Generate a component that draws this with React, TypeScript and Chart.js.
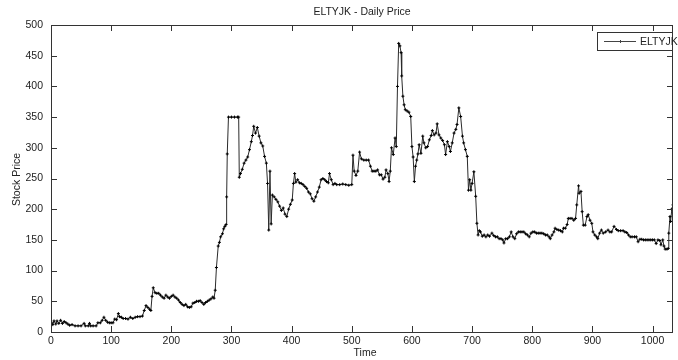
import React, { useEffect, useRef } from "react";
import { Chart, registerables } from "chart.js";

Chart.register(...registerables);

const seriesName = "ELTYJK";
const titleText = "ELTYJK - Daily Price";
const xTitle = "Time";
const yTitle = "Stock Price";
const xTicks = [0, 100, 200, 300, 400, 500, 600, 700, 800, 900, 1000];
const yTicks = [0, 50, 100, 150, 200, 250, 300, 350, 400, 450, 500];
const xMax = 1034;
const yMax = 500;

const days = [
  1, 3, 5, 8, 10, 13, 16, 19, 22, 25, 28, 31, 35, 40, 45, 50, 55, 57, 62, 64, 66, 70, 75, 78, 82, 85, 88, 91, 94, 97,
  100, 103, 106, 109, 112, 114, 117, 120, 124, 128, 132, 136, 140, 144, 148, 152, 155, 158, 161, 164, 166, 168, 170, 173, 176, 179,
  182, 185, 188, 191, 194, 197, 200, 203, 206, 209, 212, 215, 218, 221, 224, 227, 230, 233, 236, 239, 242, 245, 248, 251, 254, 257,
  260, 263, 266, 269, 271, 273, 275, 278, 280, 282, 285, 287, 289, 291, 292, 293, 295, 300, 305, 310, 312, 313, 315, 318, 321, 324,
  327, 330, 333, 335, 337, 340, 343, 346, 349, 352, 355, 358, 360, 362, 364, 366, 368, 371, 374, 377, 380, 383, 386, 389, 392, 395,
  398, 401, 403, 405, 407, 410, 413, 416, 419, 422, 425, 428, 431, 434, 437, 440, 443, 446, 449, 452, 455, 458, 461, 463, 466, 469,
  472, 475, 480, 485, 490, 495, 500, 502, 504, 507, 510, 513, 516, 520, 524, 528, 531, 534, 537, 540, 543, 546, 549, 552, 555, 557,
  560, 562, 564, 566, 569, 572, 574, 576, 578, 580, 582, 583, 585, 587, 589, 592, 595, 598, 600, 602, 604, 606, 608, 610, 612, 615,
  618, 620, 623, 626, 629, 632, 634, 637, 640, 642, 645, 648, 651, 654, 656, 659, 662, 664, 667, 670, 673, 675, 678, 681, 684, 686,
  689, 692, 694, 696, 698, 700, 703, 706, 708, 710, 712, 714, 717, 720, 723, 726, 729, 733, 736, 739, 742, 745, 748, 751, 753, 756,
  759, 762, 765, 768, 771, 774, 777, 780, 783, 786, 789, 792, 795, 798, 801, 804, 807, 810, 813, 816, 819, 822, 825, 828, 830, 833,
  836, 838, 841, 844, 847, 850, 852, 855, 858, 860, 863, 866, 869, 872, 874, 877, 878, 881, 883, 885, 888, 891, 893, 896, 899, 901,
  904, 907, 909, 912, 915, 918, 922, 926, 929, 932, 936, 940, 943, 947, 951, 954, 957, 960, 963, 966, 970, 973, 976, 979, 982, 985,
  988, 991, 994, 997, 1000, 1003, 1006, 1009, 1012, 1014, 1017, 1019, 1021, 1024, 1026, 1027, 1029, 1030, 1032, 1034,
];

const prices = [
  15, 12, 18, 13, 18, 14, 19, 14, 17, 15, 13, 11, 12, 10, 10, 10, 14, 10, 10, 14, 10, 10, 10, 15, 15, 19, 24, 19, 16, 15,
  15, 15, 21, 20, 30, 25, 24, 22, 22, 21, 24, 22, 24, 25, 25, 26, 35, 43, 40, 37, 35, 58, 72, 64, 63, 63,
  60, 57, 55, 60, 57, 55, 58, 60, 57, 55, 52, 48, 45, 43, 45, 41, 40, 41, 47, 48, 50, 50, 51, 48, 45, 48,
  50, 52, 54, 57, 55, 68, 105, 140, 146, 155, 160, 168, 172, 175, 220, 290, 350, 350, 350, 350, 350, 252, 258, 265, 275, 280,
  285, 297, 310, 320, 335, 324, 333, 319, 308, 303, 286, 275, 242, 166, 262, 176, 223, 220, 216, 212, 205, 198, 202, 192, 188, 200,
  208, 215, 242, 258, 244, 248, 243, 242, 240, 237, 234, 228, 225, 217, 213, 220, 228, 236, 248, 250, 248, 245, 243, 258, 248, 240,
  242, 240, 240, 241, 240, 239, 240, 288, 262, 255, 262, 293, 282, 280, 280, 280, 270, 262, 262, 262, 264, 256, 256, 249, 252, 264,
  258, 245, 262, 300, 289, 316, 302, 400, 470, 466, 455, 417, 384, 370, 362, 360, 358, 351, 302, 285, 245, 270, 280, 290, 305, 291,
  319, 308, 300, 302, 313, 320, 328, 321, 324, 339, 321, 316, 312, 305, 289, 310, 302, 294, 308, 324, 330, 338, 365, 351, 319, 308,
  297, 286, 231, 248, 231, 242, 261, 221, 177, 158, 165, 163, 156, 158, 155, 158, 156, 161, 157, 155, 155, 152, 152, 150, 145, 152,
  152, 155, 163, 155, 152, 160, 163, 163, 163, 163, 160, 158, 155, 161, 163, 163, 161, 161, 161, 161, 160, 158, 158, 155, 152, 158,
  163, 169, 167, 166, 165, 163, 169, 169, 175, 185, 185, 185, 182, 185, 207, 238, 226, 229, 196, 174, 174, 188, 191, 182, 177, 163,
  158, 155, 152, 161, 166, 161, 163, 166, 163, 163, 172, 167, 165, 165, 165, 163, 162, 158, 155, 155, 155, 155, 147, 151, 151, 150,
  150, 150, 150, 150, 150, 150, 144, 150, 149, 142, 150, 140, 135, 135, 136, 161, 188, 180, 200, 207,
];

const FONT = '"Liberation Sans Narrow", "Liberation Sans", Arial, sans-serif';
const AXIS_COLOR = "#333";
const TEXT_COLOR = "#222";
const TICK_LEN = 6;

const decorPlugin = {
  id: "decor",
  afterDraw(chart: any) {
    const { ctx, chartArea } = chart;
    const xs = chart.scales.x;
    const ys = chart.scales.y;
    const { left, right, top, bottom } = chartArea;
    ctx.save();
    ctx.strokeStyle = AXIS_COLOR;
    ctx.lineWidth = 1;
    ctx.beginPath();
    // box
    ctx.moveTo(left + 0.5, top + 0.5);
    ctx.lineTo(right - 0.5, top + 0.5);
    ctx.lineTo(right - 0.5, bottom + 0.5);
    ctx.moveTo(left + 0.5, top + 0.5);
    ctx.lineTo(left + 0.5, bottom + 0.5);
    ctx.lineTo(right - 0.5, bottom + 0.5);
    // inward ticks
    xTicks.forEach((v) => {
      const px = Math.round(xs.getPixelForValue(v)) + 0.5;
      ctx.moveTo(px, bottom);
      ctx.lineTo(px, bottom - TICK_LEN);
      ctx.moveTo(px, top);
      ctx.lineTo(px, top + TICK_LEN);
    });
    yTicks.forEach((v) => {
      const py = Math.round(ys.getPixelForValue(v)) + 0.5;
      ctx.moveTo(left, py);
      ctx.lineTo(left + TICK_LEN, py);
      ctx.moveTo(right, py);
      ctx.lineTo(right - TICK_LEN, py);
    });
    ctx.stroke();

    ctx.fillStyle = TEXT_COLOR;
    ctx.font = `10.5px ${FONT}`;
    ctx.textAlign = "center";
    ctx.textBaseline = "middle";
    const cx = (left + right) / 2;
    ctx.fillText(titleText, cx, 12);
    ctx.fillText(xTitle, cx + 3, 353);
    ctx.save();
    ctx.translate(17, (top + bottom) / 2 + 1);
    ctx.rotate(-Math.PI / 2);
    ctx.fillText(yTitle, 0, 0);
    ctx.restore();

    // legend
    const lx0 = 597.5;
    const ly0 = 32.5;
    const lx1 = right - 0.5;
    const ly1 = 50.5;
    ctx.fillStyle = "#fff";
    ctx.fillRect(lx0, ly0, lx1 - lx0, ly1 - ly0);
    ctx.strokeStyle = AXIS_COLOR;
    ctx.strokeRect(lx0, ly0, lx1 - lx0, ly1 - ly0);
    ctx.strokeStyle = "#444";
    ctx.beginPath();
    ctx.moveTo(604, 41.5);
    ctx.lineTo(636, 41.5);
    ctx.moveTo(620.5, 40);
    ctx.lineTo(620.5, 43);
    ctx.stroke();
    ctx.fillStyle = TEXT_COLOR;
    ctx.textAlign = "left";
    ctx.fillText(seriesName, 640, 42);
    ctx.restore();
  },
};

export default function App() {
  const canvasRef = useRef<HTMLCanvasElement | null>(null);

  useEffect(() => {
    const canvas = canvasRef.current;
    if (!canvas) return;
    const chart = new Chart(canvas, {
      type: "line",
      data: {
        datasets: [
          {
            label: seriesName,
            data: days.map((d, i) => ({ x: d, y: prices[i] })),
            borderColor: "#2a2a2a",
            borderWidth: 1,
            pointStyle: "cross",
            pointRadius: 1.5,
            pointBorderColor: "#000",
            pointBorderWidth: 1,
            pointBackgroundColor: "#000",
            tension: 0,
            fill: false,
          },
        ],
      },
      options: {
        responsive: false,
        animation: false,
        events: [],
        layout: { padding: { top: 25, right: 1, left: 0, bottom: 0 } },
        plugins: {
          legend: { display: false },
          title: { display: false },
          tooltip: { enabled: false },
        },
        scales: {
          x: {
            type: "linear",
            min: 0,
            max: xMax,
            afterFit: (s: any) => {
              s.height = 28;
            },
            afterBuildTicks: (s: any) => {
              s.ticks = xTicks.map((v) => ({ value: v }));
            },
            grid: { display: false, drawTicks: false },
            border: { display: false },
            ticks: {
              autoSkip: false,
              maxRotation: 0,
              padding: 3,
              color: TEXT_COLOR,
              font: { family: FONT, size: 10.5 },
              callback: (v: any) => String(v),
            },
          },
          y: {
            type: "linear",
            min: 0,
            max: yMax,
            afterFit: (s: any) => {
              s.width = 51;
            },
            afterBuildTicks: (s: any) => {
              s.ticks = yTicks.map((v) => ({ value: v }));
            },
            grid: { display: false, drawTicks: false },
            border: { display: false },
            ticks: {
              autoSkip: false,
              padding: 8,
              color: TEXT_COLOR,
              font: { family: FONT, size: 10.5 },
              callback: (v: any) => String(v),
            },
          },
        },
      },
      plugins: [decorPlugin],
    });
    return () => chart.destroy();
  }, []);

  return (
    <div style={{ position: "fixed", left: 0, top: 0, width: 678, height: 360, background: "#fff" }}>
      <canvas ref={canvasRef} width={678} height={360} style={{ display: "block" }} />
    </div>
  );
}
